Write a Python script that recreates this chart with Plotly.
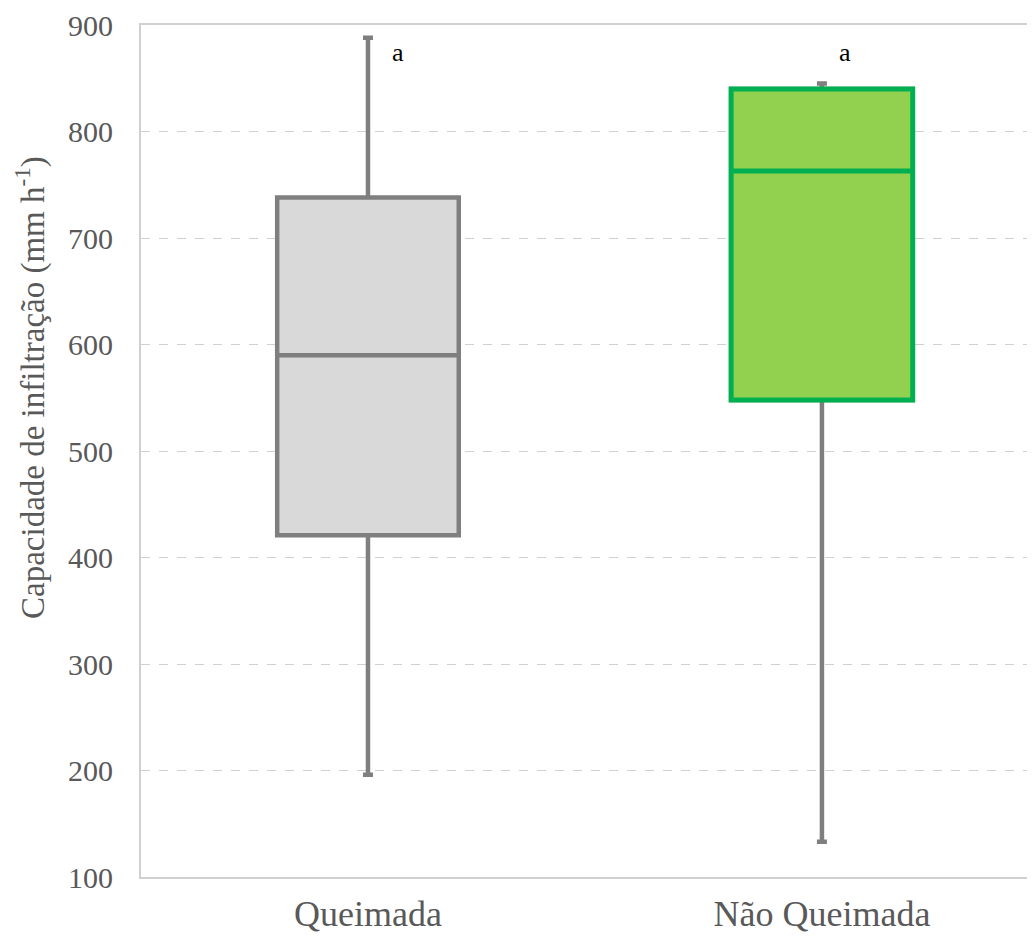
import plotly.graph_objects as go

categories = ["Queimada", "Não Queimada"]
q1 = [421, 548]
median = [590, 763]
q3 = [738, 840]
lower_fence = [196, 133]
upper_fence = [888, 845]
letters = ["a", "a"]
y_title = "Capacidade de infiltração (mm h<sup>-1</sup>)"

fill_colors = ["#D9D9D9", "#92D050"]
line_colors = ["#7F7F7F", "#00B050"]
whisker_color = "#7F7F7F"
SERIF = "Liberation Serif, Times New Roman, serif"

fig = go.Figure()

for i, cat in enumerate(categories):
    fig.add_trace(go.Box(
        x=[cat], q1=[q1[i]], median=[median[i]], q3=[q3[i]],
        lowerfence=[lower_fence[i]], upperfence=[upper_fence[i]],
        fillcolor=fill_colors[i], line=dict(color=whisker_color, width=4.5),
        width=0.4, whiskerwidth=0.055, boxpoints=False, hoverinfo="skip",
        offsetgroup="g", showlegend=False,
    ))
    if line_colors[i] != whisker_color:
        fig.add_trace(go.Box(
            x=[cat], q1=[q1[i]], median=[median[i]], q3=[q3[i]],
            lowerfence=[q1[i]], upperfence=[q3[i]],
            fillcolor=fill_colors[i], line=dict(color=line_colors[i], width=5),
            width=0.4, whiskerwidth=0, boxpoints=False,
            offsetgroup="g", showlegend=False,
        ))

xshifts = [30, 23]
for i, cat in enumerate(categories):
    fig.add_annotation(
        x=cat, y=900, yref="y", xref="x", yshift=-27,
        text=letters[i], showarrow=False, xshift=xshifts[i],
        yanchor="middle", font=dict(family=SERIF, size=26, color="#000000"),
    )

fig.add_annotation(
    x=0, xref="paper", xshift=-110, xanchor="center",
    y=0.574, yref="paper", yanchor="middle",
    text=y_title, textangle=-90, showarrow=False,
    font=dict(family=SERIF, size=33, color="#595959"),
)

fig.update_layout(
    width=1035, height=936,
    margin=dict(l=133, r=0, t=17, b=67, pad=0),
    paper_bgcolor="white", plot_bgcolor="white",
    boxmode="overlay",
    showlegend=False,
    font=dict(family=SERIF, color="#595959"),
)
fig.update_xaxes(
    type="category", range=[-0.5, 1.487], automargin=False,
    showgrid=False, showline=True, linecolor="#D0D0D0", linewidth=2, mirror=True,
    ticks="", ticklabelstandoff=4, tickfont=dict(family=SERIF, size=36, color="#595959"),
)
fig.update_yaxes(
    range=[100, 900], dtick=100, tick0=100, automargin=False,
    showgrid=True, gridcolor="#D0D0D0", griddash="dash", gridwidth=1,
    showline=True, linecolor="#D0D0D0", linewidth=2, mirror=True,
    zeroline=False, ticks="", ticklabelstandoff=20,
    tickfont=dict(family=SERIF, size=30, color="#595959"),
)

fig.write_html("out.html")
